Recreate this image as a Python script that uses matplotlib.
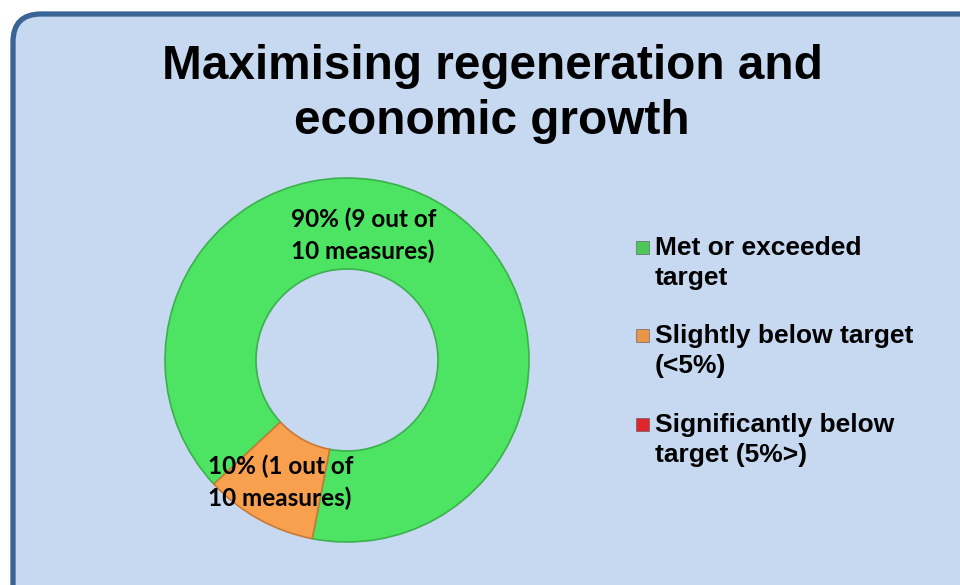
import matplotlib.pyplot as plt
from matplotlib.patches import FancyBboxPatch, Rectangle

# ---------------------- Data ----------------------
title = "Maximising regeneration and\neconomic growth"
categories = ["Met or exceeded\ntarget", "Slightly below target\n(<5%)", "Significantly below\ntarget (5%>)"]
values = [90, 10, 0]
slice_labels = ["90% (9 out of\n10 measures)", "10% (1 out of\n10 measures)", ""]
colors = ["#4CE462", "#F8A04E", "#E0262A"]
edge_colors = ["#3BB04C", "#C87A35", "#A01010"]
marker_colors = ["#4CC85A", "#E8964A", "#E0262A"]

W, H = 960, 585
fig = plt.figure(figsize=(W / 100, H / 100), dpi=100, facecolor="white")

# ---------------------- Background panel ----------------------
bg = fig.add_axes([0, 0, 1, 1])
bg.set_xlim(0, W)
bg.set_ylim(H, 0)
bg.axis("off")
bg.add_patch(FancyBboxPatch((13, 14), 975, 600,
                            boxstyle="round,pad=0,rounding_size=28",
                            facecolor="#C6D9F1", edgecolor="#3A6496", linewidth=3.8))

# ---------------------- Donut ----------------------
cx, cy, r = 347, 360, 182
ax = fig.add_axes([(cx - r) / W, (H - cy - r) / H, 2 * r / W, 2 * r / H])
wedges, _ = ax.pie(values, colors=colors, startangle=223, counterclock=False,
                   wedgeprops=dict(width=0.5, linewidth=1.2))
for w, ec in zip(wedges, edge_colors):
    w.set_edgecolor(ec)
    if w.theta2 - w.theta1 == 0:
        w.set_visible(False)
ax.set_xlim(-1, 1)
ax.set_ylim(-1, 1)
ax.axis("off")

# ---------------------- Text layer (on top) ----------------------
top = fig.add_axes([0, 0, 1, 1])
top.set_xlim(0, W)
top.set_ylim(H, 0)
top.axis("off")

top.text(492, 134, title, ha="center", va="baseline", fontsize=34.4,
         fontweight="bold", family="Liberation Sans", linespacing=1.29)

# slice labels (pixel positions of last-line baselines)
label_pos = [(291, 259), (208, 506), None]
for lab, pos in zip(slice_labels, label_pos):
    if pos is None:
        continue
    top.text(pos[0], pos[1], lab, ha="left", va="baseline", fontsize=17.5,
             fontweight="bold", family="Lato", linespacing=1.45, color="black")

# ---------------------- Legend ----------------------
leg_y = [255, 343, 432]
for cat, c, y in zip(categories, marker_colors, leg_y):
    top.add_patch(Rectangle((636, y - 14), 13, 13, facecolor=c,
                            edgecolor="#555555", linewidth=0.4))
    top.text(655, y + 30, cat, ha="left", va="baseline", fontsize=19,
             fontweight="bold", family="Liberation Sans", linespacing=1.32)

plt.savefig("out.png", dpi=100, facecolor="white")
plt.close()
